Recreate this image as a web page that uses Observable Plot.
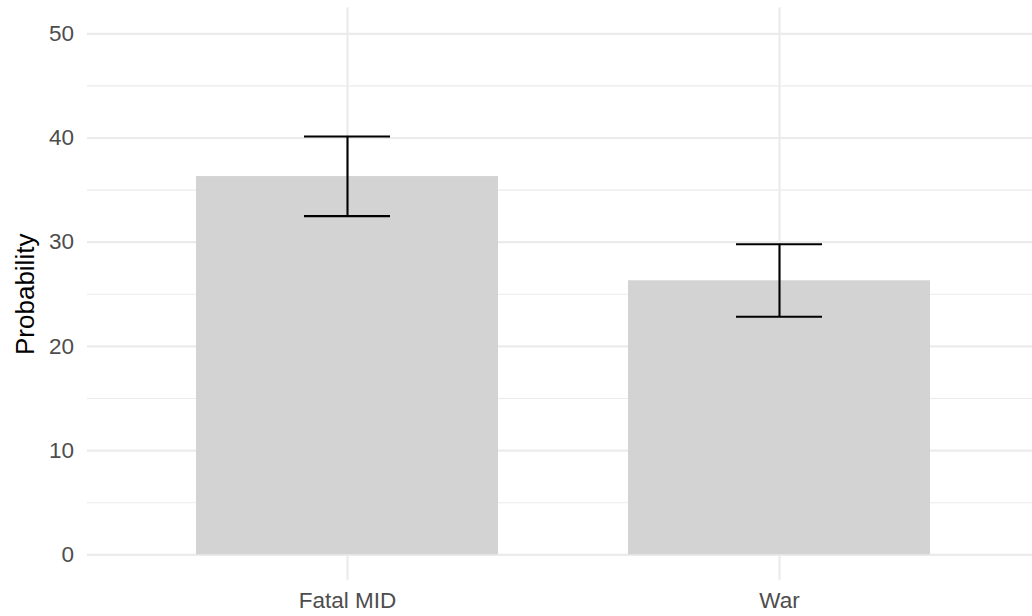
<!DOCTYPE html>
<html>
<head>
<meta charset="utf-8">
<script src="https://cdn.jsdelivr.net/npm/d3@7"></script>
<script src="https://cdn.jsdelivr.net/npm/@observablehq/plot@0.6"></script>
<style>
  html, body { margin: 0; padding: 0; background: #ffffff; }
</style>
</head>
<body>
<div id="chart"></div>
<script>
const categories = ["Fatal MID", "War"];
const probability = [36.3, 26.3];
const lower = [32.5, 22.85];
const upper = [40.15, 29.8];
const majorTicks = [0, 10, 20, 30, 40, 50];
const minorTicks = [5, 15, 25, 35, 45];

const data = categories.map((c, i) => ({cat: c, p: probability[i], lo: lower[i], hi: upper[i]}));

const chart = Plot.plot({
  width: 1032,
  height: 616,
  marginLeft: 87,
  marginRight: 0,
  marginTop: 7.25,
  marginBottom: 35.65,
  style: {fontFamily: "'Liberation Sans', Arial, Helvetica, sans-serif", color: "#4D4D4D", background: "#ffffff"},
  x: {type: "band", domain: categories, range: [87, 1039.6], paddingInner: 0.3, paddingOuter: 0.25, align: 0.5, label: null},
  y: {domain: [-2.5, 52.5], label: null},
  marks: [
    Plot.ruleY(minorTicks, {stroke: "#EBEBEB", strokeWidth: 1.1}),
    Plot.ruleY(majorTicks, {stroke: "#EBEBEB", strokeWidth: 2.2}),
    Plot.ruleX(categories, {x: d => d, stroke: "#EBEBEB", strokeWidth: 2.2}),
    Plot.barY(data, {x: "cat", y: "p", fill: "#D3D3D3"}),
    Plot.ruleX(data, {x: "cat", y1: "lo", y2: "hi", stroke: "#000000", strokeWidth: 2.1}),
    Plot.tickY(data, {x: "cat", y: "hi", stroke: "#000000", strokeWidth: 2.1, insetLeft: 108, insetRight: 108}),
    Plot.tickY(data, {x: "cat", y: "lo", stroke: "#000000", strokeWidth: 2.1, insetLeft: 108, insetRight: 108}),
    Plot.axisY(majorTicks, {tickSize: 0, tickPadding: 13.5, fontSize: 22.5, label: null}),
    Plot.axisX({tickSize: 0, tickPadding: 11, fontSize: 22.5, label: null}),
    Plot.text(["Probability"], {frameAnchor: "left", dx: -62, rotate: -90, textAnchor: "middle", fontSize: 26, fill: "#000000"})
  ]
});
document.getElementById("chart").appendChild(chart);
</script>
</body>
</html>
